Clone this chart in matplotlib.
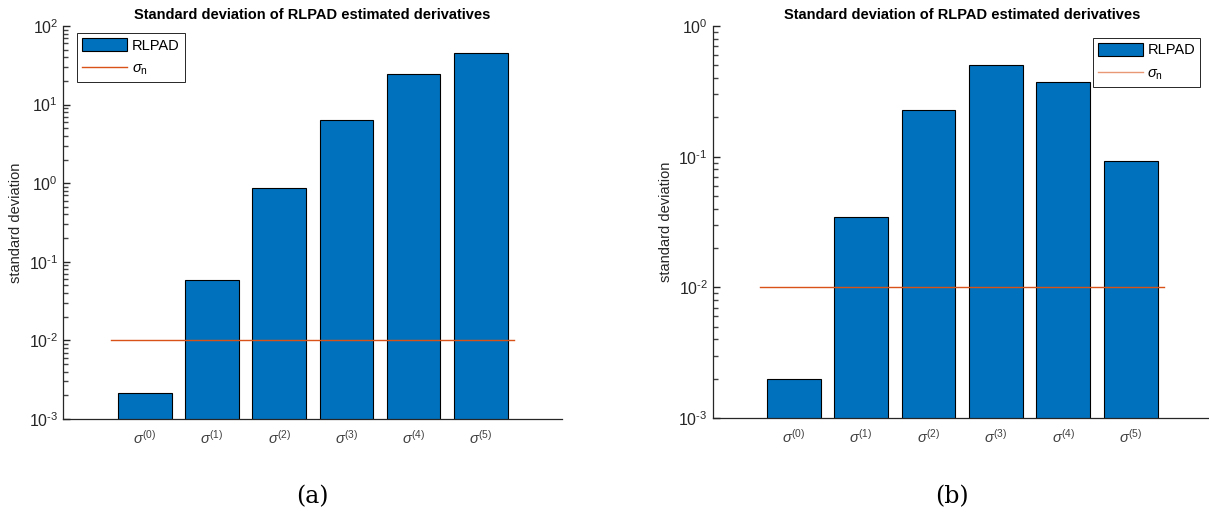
import matplotlib
matplotlib.use("Agg")
import matplotlib.pyplot as plt
import matplotlib.ticker as mticker
from matplotlib.lines import Line2D
from matplotlib.patches import Patch
import numpy as np

# ---- data ----
categories = [r"$\sigma^{(0)}$", r"$\sigma^{(1)}$", r"$\sigma^{(2)}$",
              r"$\sigma^{(3)}$", r"$\sigma^{(4)}$", r"$\sigma^{(5)}$"]
std_a = [0.00216, 0.059, 0.87, 6.4, 24.3, 45.1]
std_b = [0.00198, 0.0346, 0.228, 0.506, 0.372, 0.092]
sigma_n = 0.01
ylim_a = (1e-3, 1e2)
ylim_b = (1e-3, 1e0)
title = "Standard deviation of RLPAD estimated derivatives"
ylabel = "standard deviation"
captions = ["(a)", "(b)"]

plt.rcParams['font.family'] = ['Liberation Sans', 'DejaVu Sans']
plt.rcParams['mathtext.fontset'] = 'custom'
plt.rcParams['mathtext.rm'] = 'Liberation Sans'
plt.rcParams['mathtext.it'] = 'Liberation Sans:italic'
plt.rcParams['mathtext.bf'] = 'Liberation Sans:bold'

BAR = '#0072BD'
LINE = '#D95319'
AX = '#262626'

fig = plt.figure(figsize=(12.09, 5.19), dpi=100)

specs = [
    dict(rect=[63/1209, 1-419/519, 499/1209, 393/519], vals=std_a, ylim=ylim_a,
         xlim=(-1.22, 6.21), leg_loc='upper left', leg_anchor=(0.028, 0.982),
         cap_x=312/1209, leg_alpha=1.0),
    dict(rect=[712.7/1209, 1-418/519, 499/1209, 392/519], vals=std_b, ylim=ylim_b,
         xlim=(-1.2, 6.2), leg_loc='upper right', leg_anchor=(0.977, 0.97),
         cap_x=952/1209, leg_alpha=0.6),
]


def fmt(v, pos):
    e = int(round(np.log10(v)))
    return r"$10^{\text{%d}}$" % e


for sp, cap in zip(specs, captions):
    ax = fig.add_axes(sp['rect'])
    x = np.arange(len(categories))
    ax.bar(x, sp['vals'], width=0.8, color=BAR, edgecolor='black', linewidth=0.8,
           label='RLPAD', zorder=2)
    ax.plot([x[0]-0.5, x[-1]+0.5], [sigma_n, sigma_n], color=LINE, lw=1.0,
            zorder=3)
    ax.set_yscale('log')
    lo, hi = sp['ylim']
    e0, e1 = int(round(np.log10(lo))), int(round(np.log10(hi)))
    majors = [10.0**e for e in range(e0, e1 + 1)]
    minors = [m * 10.0**e for e in range(e0, e1) for m in range(2, 10)]
    ax.set_yticks(majors)
    ax.set_yticks(minors, minor=True)
    ax.yaxis.set_major_formatter(mticker.FuncFormatter(fmt))
    ax.yaxis.set_minor_formatter(mticker.NullFormatter())
    ax.set_ylim(lo, hi)
    ax.set_xlim(*sp['xlim'])
    ax.set_xticks(x)
    ax.set_xticklabels(categories, fontsize=10.5, color='#404040')
    for s in ['top', 'right']:
        ax.spines[s].set_visible(False)
    for s in ['left', 'bottom']:
        ax.spines[s].set_color(AX)
        ax.spines[s].set_linewidth(0.9)
    ax.tick_params(axis='y', which='major', direction='in', length=5, width=1.0,
                   colors=AX, labelsize=11.5)
    ax.tick_params(axis='y', which='minor', direction='in', length=3.5, width=1.0,
                   colors='#444444', left=True)
    ax.tick_params(axis='x', direction='in', length=3, width=0.5, colors='#bbbbbb',
                   labelcolor='#404040', pad=7)
    ax.set_ylabel(ylabel, fontsize=10.5, color=AX, labelpad=4)
    ax.set_title(title, fontsize=10.5, fontweight='bold', color='black', pad=5)
    handles = [Patch(facecolor=BAR, edgecolor='black', linewidth=0.8),
               Line2D([], [], color=LINE, lw=1.0, alpha=sp['leg_alpha'])]
    leg = ax.legend(handles, ['RLPAD', r'$\sigma_{\mathrm{n}}$'], loc=sp['leg_loc'],
                    bbox_to_anchor=sp['leg_anchor'], fontsize=10.5, frameon=True,
                    fancybox=False, edgecolor=AX, framealpha=1, borderpad=0.35,
                    handlelength=3.1, handleheight=1.0, labelspacing=0.6,
                    handletextpad=0.3, borderaxespad=0)
    leg.get_frame().set_linewidth(0.7)
    fig.text(sp['cap_x'], 22/519, cap, fontsize=17, ha='center', va='center',
             family='DejaVu Serif', math_fontfamily='cm')

fig.savefig('out.png', dpi=100)
